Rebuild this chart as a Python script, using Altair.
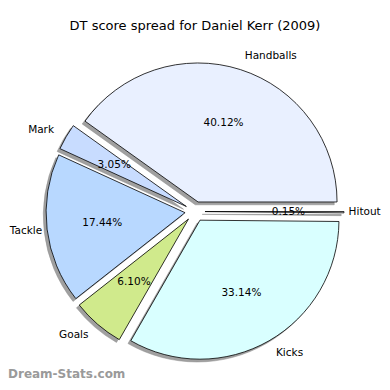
import altair as alt
import pandas as pd

categories = ["Handballs", "Mark", "Tackle", "Goals", "Kicks", "Hitout"]
percents = [40.12, 3.05, 17.44, 6.10, 33.14, 0.15]
colors = ["#e9f0ff", "#c8dcff", "#b8d8ff", "#d0ea8c", "#d9ffff", "#f2f2f2"]
title_text = "DT score spread for Daniel Kerr (2009)"
watermark = "Dream-Stats.com"

df = pd.DataFrame({
    "cat": categories,
    "pct": percents,
    "idx": list(range(len(categories))),
    "label": [f"{p:.2f}%" for p in percents],
})

W, H = 374, 374
CX, CY = 187, 203.5
R = 139
D = 10

base = alt.Chart(df).transform_window(
    cum="sum(pct)", sort=[alt.SortField("idx", order="ascending")], frame=[None, 0]
).transform_calculate(
    a="2.5*PI - 2*PI*(datum.cum - datum.pct/2)/100"
).transform_calculate(
    cx=f"{CX} + {D}*sin(datum.a)",
    cy=f"{CY} - {D}*cos(datum.a)",
).transform_calculate(
    px=f"datum.cx + {0.6*R}*sin(datum.a)",
    py=f"datum.cy - {0.6*R}*cos(datum.a)",
    lx0=f"datum.cx + {1.1*R}*sin(datum.a)",
    ly=f"datum.cy - {1.1*R}*cos(datum.a)",
    side="sin(datum.a) >= 0 ? 'left' : 'right'",
).transform_calculate(
    lx="datum.side == 'left' ? min(datum.lx0, " + str(W - 1) + " - length(datum.cat)*5.4) : max(datum.lx0, length(datum.cat)*5.7)"
)

theta_scale = alt.Scale(domain=[0, 100], range=[5 * 3.141592653589793 / 2, 3.141592653589793 / 2])

shadow = base.mark_arc(outerRadius=R, color="#a0a0a0", stroke="#8c8c8c", strokeWidth=0.5).encode(
    theta=alt.Theta("pct:Q", stack=True, scale=theta_scale),
    order=alt.Order("idx:Q"),
    x=alt.X("sx:Q", scale=None),
    y=alt.Y("sy:Q", scale=None),
).transform_calculate(sx="datum.cx - 2.8", sy="datum.cy + 2.8")

pie = base.mark_arc(outerRadius=R, stroke="black", strokeWidth=0.8).encode(
    theta=alt.Theta("pct:Q", stack=True, scale=theta_scale),
    order=alt.Order("idx:Q"),
    color=alt.Color("cat:N", scale=alt.Scale(domain=categories, range=colors), legend=None),
    x=alt.X("cx:Q", scale=None),
    y=alt.Y("cy:Q", scale=None),
)

pct_text = base.mark_text(font="DejaVu Sans", fontSize=10.5, color="black", align="center", baseline="middle").encode(
    x=alt.X("px:Q", scale=None),
    y=alt.Y("py:Q", scale=None),
    text="label:N",
)

lab_left = base.mark_text(font="DejaVu Sans", fontSize=10.5, color="black", align="left", baseline="middle").encode(
    x=alt.X("lx:Q", scale=None),
    y=alt.Y("ly:Q", scale=None),
    text="cat:N",
).transform_filter("datum.side == 'left'")

lab_right = base.mark_text(font="DejaVu Sans", fontSize=10.5, color="black", align="right", baseline="middle").encode(
    x=alt.X("lx:Q", scale=None),
    y=alt.Y("ly:Q", scale=None),
    text="cat:N",
).transform_filter("datum.side == 'right'")

title = alt.Chart(pd.DataFrame({"t": [title_text]})).mark_text(
    font="DejaVu Sans", fontSize=13, color="black", align="center", baseline="middle"
).encode(x=alt.value(187), y=alt.value(18), text="t:N")

wm = alt.Chart(pd.DataFrame({"t": [watermark]})).mark_text(
    font="DejaVu Sans", fontSize=12, fontWeight="bold", color="#9a9a9a", align="left", baseline="middle"
).encode(x=alt.value(0), y=alt.value(366), text="t:N")

chart = alt.layer(shadow, pie, pct_text, lab_left, lab_right, title, wm).properties(
    width=W, height=H, padding=0, autosize="none"
).configure_view(stroke=None)

chart.save("out.html", embed_options={"renderer": "svg", "actions": False})
